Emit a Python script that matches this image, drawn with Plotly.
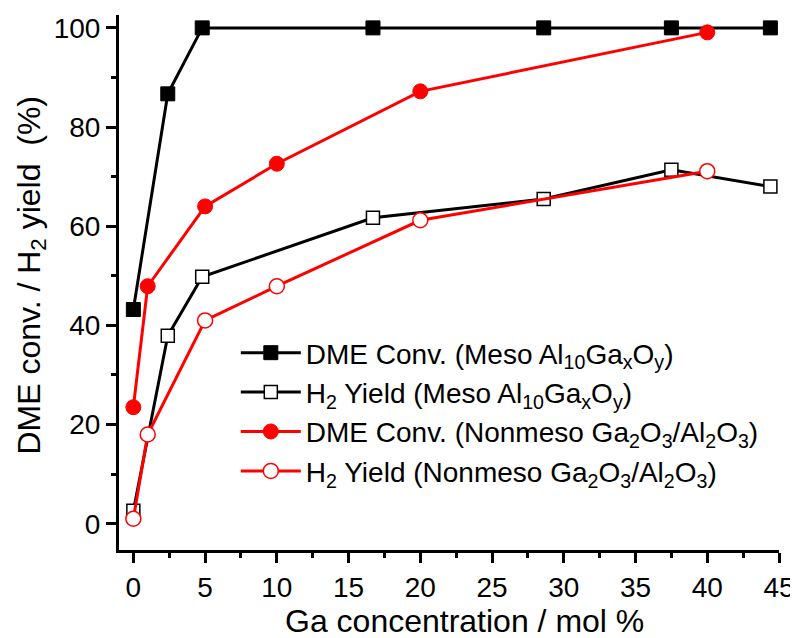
import plotly.graph_objects as go

# Data
meso_x = [0, 2.4, 4.8, 16.7, 28.6, 37.5, 44.4]
meso_dme_conv = [43.2, 86.7, 100, 100, 100, 100, 100]
meso_h2_yield = [2.6, 37.9, 49.8, 61.7, 65.5, 71.4, 68.0]

nonmeso_x = [0, 1, 5, 10, 20, 40]
nonmeso_dme_conv = [23.5, 47.9, 64.0, 72.6, 87.2, 99.1]
nonmeso_h2_yield = [1.0, 18.0, 41.0, 47.9, 61.2, 71.1]

x_ticks = [0, 5, 10, 15, 20, 25, 30, 35, 40, 45]
y_ticks = [0, 20, 40, 60, 80, 100]

x_title = "Ga concentration / mol %"
y_title = "DME conv. / H<sub>2</sub> yield  (%)"

names = [
    "DME Conv. (Meso Al<sub>10</sub>Ga<sub>x</sub>O<sub>y</sub>)",
    "H<sub>2</sub> Yield (Meso Al<sub>10</sub>Ga<sub>x</sub>O<sub>y</sub>)",
    "DME Conv. (Nonmeso Ga<sub>2</sub>O<sub>3</sub>/Al<sub>2</sub>O<sub>3</sub>)",
    "H<sub>2</sub> Yield (Nonmeso Ga<sub>2</sub>O<sub>3</sub>/Al<sub>2</sub>O<sub>3</sub>)",
]

FONT = "Arial, Liberation Sans, sans-serif"

fig = go.Figure()
fig.add_trace(go.Scatter(
    x=meso_x, y=meso_dme_conv, name=names[0], mode="lines+markers",
    line=dict(color="black", width=3),
    marker=dict(symbol="square", size=14, color="black", line=dict(color="black", width=1)),
))
fig.add_trace(go.Scatter(
    x=meso_x, y=meso_h2_yield, name=names[1], mode="lines+markers",
    line=dict(color="black", width=3),
    marker=dict(symbol="square", size=13, color="white", line=dict(color="black", width=1.5)),
))
fig.add_trace(go.Scatter(
    x=nonmeso_x, y=nonmeso_dme_conv, name=names[2], mode="lines+markers",
    line=dict(color="#ff0000", width=3),
    marker=dict(symbol="circle", size=15, color="#ff0000", line=dict(color="#ff0000", width=1)),
))
fig.add_trace(go.Scatter(
    x=nonmeso_x, y=nonmeso_h2_yield, name=names[3], mode="lines+markers",
    line=dict(color="#ff0000", width=3),
    marker=dict(symbol="circle", size=15, color="white", line=dict(color="#ff0000", width=1.5)),
))

fig.update_layout(
    width=798, height=638,
    margin=dict(l=111, r=27, t=7, b=96),
    paper_bgcolor="white", plot_bgcolor="white",
    font=dict(family=FONT, color="black", size=28),
    showlegend=True,
    legend=dict(
        x=0.177, y=0.415, xanchor="left", yanchor="top",
        font=dict(family=FONT, size=28, color="black"),
        bgcolor="rgba(0,0,0,0)", borderwidth=0,
        itemwidth=60, tracegroupgap=0,
    ),
    xaxis=dict(
        range=[-1, 45], showgrid=False, zeroline=False, automargin=False,
        showline=True, linecolor="black", linewidth=3,
        tickmode="array", tickvals=x_ticks,
        ticks="outside", ticklen=10, tickwidth=3, tickcolor="black",
        tickfont=dict(size=28),
        minor=dict(tickvals=[2.5, 7.5, 12.5, 17.5, 22.5, 27.5, 32.5, 37.5, 42.5],
                   ticks="outside", ticklen=5, tickwidth=3, tickcolor="black"),
    ),
    yaxis=dict(
        range=[-5.3, 102.6], showgrid=False, zeroline=False, automargin=False,
        showline=True, linecolor="black", linewidth=3,
        tickmode="array", tickvals=y_ticks,
        ticks="outside", ticklen=10, tickwidth=3, tickcolor="black",
        tickfont=dict(size=28),
        minor=dict(tickvals=[10, 30, 50, 70, 90],
                   ticks="outside", ticklen=5, tickwidth=3, tickcolor="black"),
    ),
    annotations=[
        dict(text=x_title, xref="paper", yref="paper", x=0.524, y=-0.133,
             xanchor="center", yanchor="middle", showarrow=False,
             font=dict(family=FONT, size=32, color="black")),
        dict(text=y_title, xref="paper", yref="paper", x=-0.134, y=0.514,
             xanchor="center", yanchor="middle", showarrow=False, textangle=-90,
             font=dict(family=FONT, size=32, color="black")),
    ],
)

fig.write_html("out.html")
